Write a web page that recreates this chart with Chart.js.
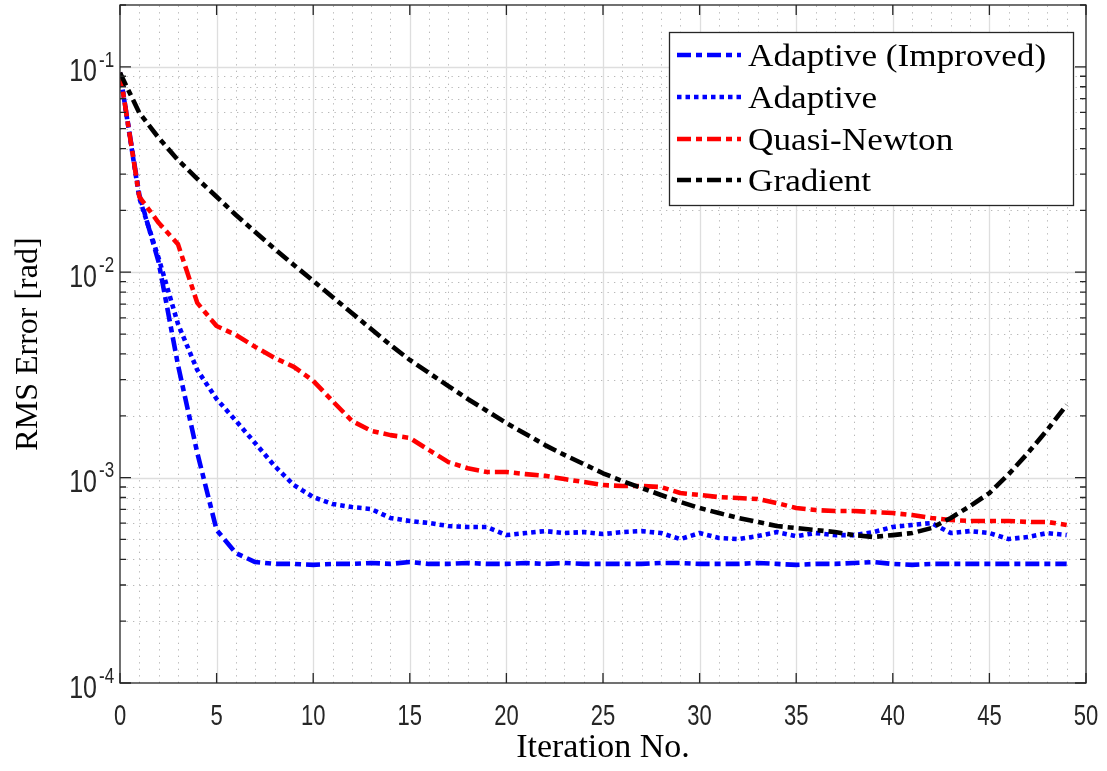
<!DOCTYPE html>
<html><head><meta charset="utf-8">
<script src="https://cdn.jsdelivr.net/npm/chart.js@4.4.1/dist/chart.umd.min.js"></script>
<style>html,body{margin:0;padding:0;background:#fff;}canvas{display:block;}</style>
</head><body>
<canvas id="c" width="1107" height="771"></canvas>
<script>
const iterations = [0,1,2,3,4,5,6,7,8,9,10,11,12,13,14,15,16,17,18,19,20,21,22,23,24,25,26,27,28,29,30,31,32,33,34,35,36,37,38,39,40,41,42,43,44,45,46,47,48,49];
const adaptiveImproved = [0.0935,0.0238,0.0112,0.00354,0.00132,0.000556,0.000429,0.000388,0.00038,0.00038,
  0.000376,0.00038,0.00038,0.000384,0.00038,0.000388,0.00038,0.00038,0.000384,0.00038,
  0.00038,0.000384,0.00038,0.000384,0.00038,0.00038,0.00038,0.00038,0.000384,0.000384,
  0.00038,0.00038,0.00038,0.000384,0.00038,0.000376,0.00038,0.00038,0.000384,0.000388,
  0.00038,0.000376,0.00038,0.00038,0.00038,0.00038,0.00038,0.00038,0.00038,0.00038];
const adaptive = [0.0935,0.0230,0.0117,0.0056,0.00334,0.002415,0.00189,0.00147,0.00114,0.00092,
  0.000804,0.000744,0.000719,0.000703,0.000636,0.000615,0.000601,0.000581,0.000575,0.000575,
  0.000525,0.000537,0.000549,0.000537,0.000543,0.000531,0.000543,0.000549,0.000537,0.000502,
  0.000537,0.000508,0.000502,0.000519,0.000543,0.000519,0.000537,0.000525,0.000525,0.000543,
  0.000575,0.000588,0.000601,0.000537,0.000549,0.000537,0.000502,0.000514,0.000537,0.000525];
const quasiNewton = [0.0935,0.0233,0.0174,0.0137,0.00709,0.00547,0.00495,0.00433,0.00383,0.00346,
  0.00296,0.00236,0.00189,0.00169,0.00161,0.00156,0.00136,0.00119,0.00111,0.001065,
  0.001065,0.00104,0.00102,0.000984,0.000952,0.00092,0.00091,0.00091,0.0009,0.000841,
  0.000823,0.000804,0.000795,0.000787,0.000752,0.000711,0.000695,0.000688,0.000688,0.00068,
  0.000672,0.000657,0.000636,0.000622,0.000615,0.000615,0.000615,0.000608,0.000608,0.000588];
const gradient = [0.0935,0.0597,0.0451,0.0352,0.0285,0.0233,0.0190,0.0157,0.0130,0.01085,
  0.00907,0.00758,0.00633,0.00529,0.00442,0.00374,0.00323,0.00279,0.002415,0.00211,
  0.001845,0.00163,0.00144,0.00129,0.001165,0.00105,0.000962,0.00089,0.000823,0.000761,
  0.000711,0.000672,0.000636,0.000608,0.000581,0.000568,0.000556,0.000543,0.000525,0.000514,
  0.000525,0.000537,0.000568,0.000636,0.000727,0.000841,0.00104,0.00132,0.00171,0.00226];
const seriesNames = ['Adaptive (Improved)','Adaptive','Quasi-Newton','Gradient'];
const seriesColors = ['#0000ff','#0000ff','#ff0000','#000000'];
const xTickValues = [0,5,10,15,20,25,30,35,40,45,50];
const xTickLabels = ['0','5','10','15','20','25','30','35','40','45','50'];
const yTickValues = [1e-4,1e-3,1e-2,1e-1];
const yTickExponents = ['-4','-3','-2','-1'];
const xTitle = 'Iteration No.';
const yTitle = 'RMS Error [rad]';

const DASHDOT = [14,5,6,5];
const DOTTED = [4.5,4];
const seriesData = [adaptiveImproved, adaptive, quasiNewton, gradient];
const seriesDash = [DASHDOT, DOTTED, DASHDOT, DASHDOT];
const seriesOrder = [3,2,1,0];

const datasets = seriesData.map((arr, k) => ({
  label: seriesNames[k],
  data: iterations.map((it, i) => ({x: it, y: arr[i]})),
  borderColor: seriesColors[k],
  backgroundColor: seriesColors[k],
  borderWidth: 4.6,
  borderDash: seriesDash[k],
  borderCapStyle: 'butt',
  borderJoinStyle: 'round',
  pointRadius: 0,
  tension: 0,
  fill: false,
  order: seriesOrder[k]
}));

const AXIS = '#262626';
const SANS = '"Liberation Sans", Arial, sans-serif';
const SERIF = '"Liberation Serif", "Times New Roman", serif';
const STRETCH_Y = 1.38;

const matlabPlugin = {
  id: 'matlab',
  beforeDatasetsDraw(chart) {
    const {ctx, chartArea: {left, right, top, bottom}, scales: {x, y}} = chart;
    ctx.save();
    ctx.strokeStyle = '#b8b8b8';
    ctx.lineWidth = 1;
    ctx.setLineDash([1.3, 5.2]);
    for (let i = 0; i <= 50; i++) {
      if (i % 5 === 0) continue;
      const px = Math.round(x.getPixelForValue(i)) + 0.5;
      ctx.beginPath(); ctx.moveTo(px, bottom); ctx.lineTo(px, top); ctx.stroke();
    }
    for (let k = -4; k <= -1; k++) {
      for (let m = 2; m <= 9; m++) {
        const v = m * Math.pow(10, k);
        if (v >= 0.2) continue;
        const py = Math.round(y.getPixelForValue(v)) + 0.5;
        ctx.beginPath(); ctx.moveTo(left, py); ctx.lineTo(right, py); ctx.stroke();
      }
    }
    ctx.setLineDash([]);
    ctx.strokeStyle = '#dedede';
    ctx.lineWidth = 1.3;
    xTickValues.forEach(v => {
      if (v === 0 || v === 50) return;
      const px = Math.round(x.getPixelForValue(v)) + 0.5;
      ctx.beginPath(); ctx.moveTo(px, bottom); ctx.lineTo(px, top); ctx.stroke();
    });
    yTickValues.forEach(v => {
      if (v === 1e-4) return;
      const py = Math.round(y.getPixelForValue(v)) + 0.5;
      ctx.beginPath(); ctx.moveTo(left, py); ctx.lineTo(right, py); ctx.stroke();
    });
    ctx.restore();
  },
  afterDatasetsDraw(chart) {
    const {ctx, chartArea: {left, right, top, bottom}, scales: {x, y}} = chart;
    ctx.save();
    ctx.setLineDash([]);
    ctx.strokeStyle = AXIS;
    ctx.lineWidth = 1.3;
    ctx.strokeRect(left, top, right - left, bottom - top);
    xTickValues.forEach(v => {
      const px = x.getPixelForValue(v);
      ctx.beginPath();
      ctx.moveTo(px, bottom); ctx.lineTo(px, bottom - 10);
      ctx.moveTo(px, top); ctx.lineTo(px, top + 10);
      ctx.stroke();
    });
    for (let k = -4; k <= -1; k++) {
      for (let m = 1; m <= 9; m++) {
        const v = m * Math.pow(10, k);
        if (v > 0.2) continue;
        const py = y.getPixelForValue(v);
        const len = m === 1 ? 11 : 6;
        ctx.beginPath();
        ctx.moveTo(left, py); ctx.lineTo(left + len, py);
        ctx.moveTo(right, py); ctx.lineTo(right - len, py);
        ctx.stroke();
      }
    }
    // x tick labels
    ctx.fillStyle = AXIS;
    ctx.font = '22px ' + SANS;
    ctx.textAlign = 'center';
    ctx.textBaseline = 'middle';
    xTickValues.forEach((v, i) => {
      ctx.save();
      ctx.translate(x.getPixelForValue(v), 717);
      ctx.scale(1, STRETCH_Y);
      ctx.fillText(xTickLabels[i], 0, 0);
      ctx.restore();
    });
    // y tick labels (10 with superscript exponent)
    yTickValues.forEach((v, i) => {
      const py = y.getPixelForValue(v);
      ctx.save();
      ctx.font = '25px ' + SANS;
      ctx.textAlign = 'right';
      ctx.textBaseline = 'middle';
      ctx.translate(97, py + 6);
      ctx.scale(1, 1.25);
      ctx.fillText('10', 0, 0);
      ctx.restore();
      ctx.save();
      ctx.font = '17px ' + SANS;
      ctx.textAlign = 'left';
      ctx.textBaseline = 'middle';
      ctx.translate(99, py - 6);
      ctx.scale(1, 1.25);
      ctx.fillText(yTickExponents[i], 0, 0);
      ctx.restore();
    });
    // legend
    const lx = 669, ly = 32, lw = 404, lh = 173;
    ctx.fillStyle = '#ffffff';
    ctx.fillRect(lx, ly, lw, lh);
    ctx.strokeStyle = AXIS;
    ctx.lineWidth = 1.3;
    ctx.strokeRect(lx + 0.5, ly + 0.5, lw, lh);
    const rowY = [55, 97, 139, 180];
    chart.data.datasets.forEach((ds, i) => {
      const yy = rowY[i];
      ctx.save();
      ctx.strokeStyle = ds.borderColor;
      ctx.lineWidth = ds.borderWidth;
      ctx.setLineDash(ds.borderDash);
      ctx.lineCap = 'butt';
      ctx.beginPath(); ctx.moveTo(677, yy); ctx.lineTo(741, yy); ctx.stroke();
      ctx.restore();
      ctx.save();
      ctx.fillStyle = '#000';
      ctx.font = '32px ' + SERIF;
      ctx.textAlign = 'left';
      ctx.textBaseline = 'alphabetic';
      ctx.translate(748, yy + 11);
      ctx.scale(1.1, 1);
      ctx.fillText(ds.label, 0, 0);
      ctx.restore();
    });
    ctx.restore();
  }
};

new Chart(document.getElementById('c'), {
  type: 'line',
  data: {datasets},
  options: {
    responsive: false,
    animation: false,
    devicePixelRatio: 1,
    layout: {padding: {left: 0, top: 5, right: 21, bottom: 0}},
    plugins: {legend: {display: false}, tooltip: {enabled: false}},
    scales: {
      x: {
        type: 'linear', min: 0, max: 50,
        grid: {display: false, drawTicks: false},
        border: {display: false},
        ticks: {display: false},
        afterBuildTicks: s => { s.ticks = xTickValues.map(v => ({value: v})); },
        afterFit: s => { s.height = 88; s.paddingLeft = 0; s.paddingRight = 0; },
        title: {display: true, text: xTitle, color: '#000', font: {family: SERIF, size: 34}, padding: {top: 0, bottom: 3}}
      },
      y: {
        type: 'logarithmic', min: 1e-4, max: 0.2,
        grid: {display: false, drawTicks: false},
        border: {display: false},
        ticks: {display: false},
        afterFit: s => { s.width = 120; s.paddingTop = 0; s.paddingBottom = 0; },
        title: {display: true, text: yTitle, color: '#000', font: {family: SERIF, size: 32}, padding: {top: 9, bottom: 0}}
      }
    }
  },
  plugins: [matlabPlugin]
});
</script>
</body></html>
